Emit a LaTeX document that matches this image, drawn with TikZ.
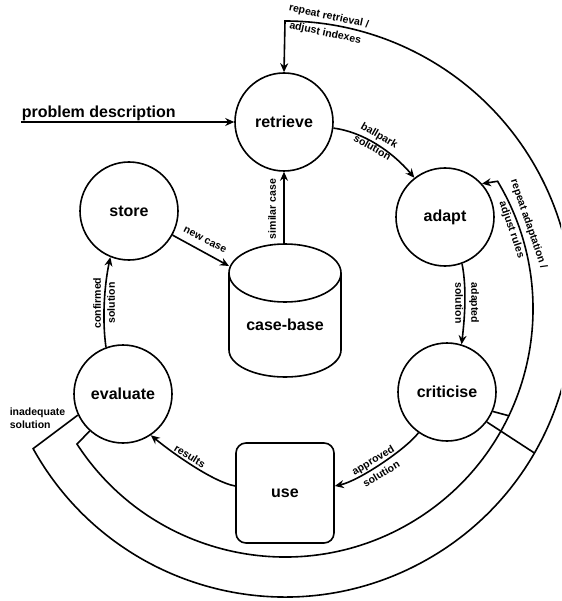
\documentclass[tikz,border=0pt]{standalone}
\usepackage{fontspec}
\setmainfont{Liberation Sans}
\usetikzlibrary{arrows.meta,calc}

\begin{document}
\begin{tikzpicture}[x=1pt,y=-1pt,
  line width=1.6pt,
  arr/.style={-{Stealth[length=9pt,width=8pt]}},
  mainfont/.style={font=\fontsize{16}{19}\selectfont\bfseries},
  proc/.style={circle,draw,minimum size=98pt,inner sep=0pt,mainfont},
  lbl/.style={font=\fontsize{10.5}{12}\selectfont\bfseries,align=center,inner sep=0pt},
]
\useasboundingbox (0,0) rectangle (561,601);
\fill[white] (0,0) rectangle (561,601);
\clip (0,0) rectangle (561,601);

% centre of the cycle and of the two feedback loops
\coordinate (ctr) at (285,309);

% process steps
\node[proc] (retrieve)  at (284,122) {retrieve};
\node[proc] (adapt)     at (445,217) {adapt};
\node[proc] (criticise) at (447,392) {criticise};
\node[proc] (evaluate)  at (123,394) {evaluate};
\node[proc] (store)     at (129,211) {store};
\node[draw,rounded corners=10pt,minimum width=98pt,minimum height=100pt,inner sep=0pt,mainfont] (use) at (285,493) {use};

% case-base cylinder
\draw (229,273) -- (229,350) arc[start angle=180,end angle=0,x radius=56,y radius=27] -- (341,273);
\draw (285,273) ellipse[x radius=56,y radius=29];
\node[mainfont] (casebase) at (285,325) {case-base};
\coordinate (cbtop) at (284,244);
\coordinate (cbleft) at (229,266);

% problem description input
\node[anchor=base west,mainfont,inner sep=0pt] (pd) at (21,118) {problem description};
\coordinate (pdstart) at (21,122);
\draw[arr] (pdstart) -- (retrieve.west);

% main cycle
\draw[arr] (retrieve.-7) .. controls +(30,4) and +(-22,-26) .. (adapt.128);
\draw[arr] (adapt.-70) .. controls +(5,25) and +(3,-25) .. (criticise.73);
\draw[arr] (criticise.-125) .. controls +(-12,16) and +(24,-5) .. (use.8);
\draw[arr] (use.172) .. controls +(-22,-4) and +(22,18) .. (evaluate.-56);
\draw[arr] (evaluate.110) .. controls +(-4,-28) and +(-6,28) .. (store.-112);
\draw[arr] (store.-29) -- (cbleft);
\draw[arr] (cbtop) -- (retrieve.south);

% feedback loops
\coordinate (o1) at ([shift={(151:288)}]ctr);
\coordinate (i1) at ([shift={(147:248)}]ctr);
\draw[arr] (evaluate.-155) -- (o1) arc[start angle=151,end angle=-90,radius=288] -- (retrieve.north);
\draw[arr] (evaluate.-132) -- (i1) arc[start angle=147,end angle=-31,radius=248] -- (adapt.42);
\draw (criticise.-23) -- ([shift={(25.5:248)}]ctr);
\draw (criticise.-37) -- ([shift={(30:288)}]ctr);

% labels
\node[lbl,rotate=-30] (lballpark) at (376,141) {ballpark\\[2pt]solution};
\node[lbl,rotate=90] (lsimilar) at (272,209) {similar case};
\node[lbl,rotate=-27] (lnew) at (205,240) {new case};
\node[lbl,rotate=-90] (ladapted) at (467,303) {adapted\\[4pt]solution};
\node[lbl,rotate=31] (lapproved) at (377,467) {approved\\[4pt]solution};
\node[lbl,rotate=-32] (lresults) at (190,456) {results};
\node[lbl,rotate=90] (lconfirmed) at (104,303) {confirmed\\[2pt]solution};
\node[lbl,anchor=west,align=left] (linadequate) at (9,418) {inadequate\\[1pt]solution};
\node[lbl,rotate=-12] (lretrieval) at (327,25) {repeat retrieval /\\[5pt]adjust indexes};
\node[lbl,rotate=-71] (ladaptation) at (520,227) {repeat adaptation /\\[6pt]adjust rules};
\end{tikzpicture}
\end{document}
